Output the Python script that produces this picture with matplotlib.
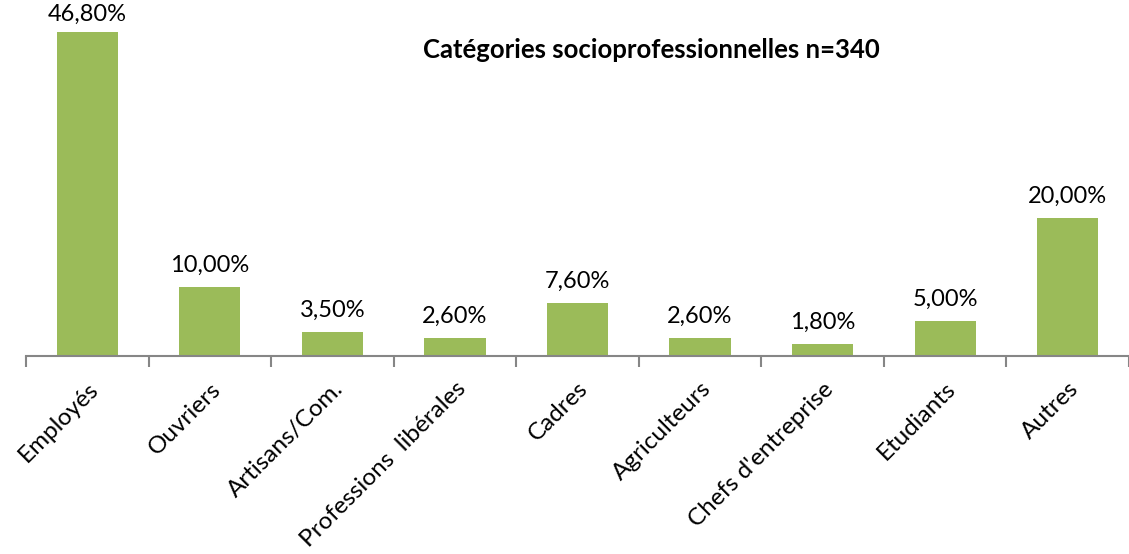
import matplotlib.pyplot as plt
import numpy as np

# data
categories = ["Employés", "Ouvriers", "Artisans/Com.", "Professions  libérales", "Cadres",
              "Agriculteurs", "Chefs d'entreprise", "Etudiants", "Autres"]
values = [46.8, 10.0, 3.5, 2.6, 7.6, 2.6, 1.8, 5.0, 20.0]
title = "Catégories socioprofessionnelles n=340"

plt.rcParams['font.family'] = ['Lato', 'DejaVu Sans']

fig = plt.figure(figsize=(11.29, 5.54), dpi=100)
ax = fig.add_axes([26 / 1129, 198 / 554, 1103 / 1129, 356 / 554])

x = np.arange(len(categories))
bars = ax.bar(x, values, width=0.5, color="#9BBB59")

ymax = 46.8 * 356 / 324
ax.set_xlim(-0.5, len(categories) - 0.5)
ax.set_ylim(0, ymax)

# value labels, pushed down near the top edge
for xi, v in zip(x, values):
    ax.text(xi, min(v + 1.6, ymax - 3.6), f"{v:.2f}".replace(".", ",") + "%",
            ha="center", va="bottom", fontsize=17)

ax.text(0.567, 0.86, title, transform=ax.transAxes, ha="center", va="center",
        fontsize=18.5, fontweight="bold")

for s in ["top", "right", "left"]:
    ax.spines[s].set_visible(False)
ax.spines["bottom"].set_color("#868686")
ax.spines["bottom"].set_linewidth(1.5)
ax.set_yticks([])

ax.set_xticks(x)
ax.set_xticklabels(categories, rotation=45, ha="right", rotation_mode="anchor", fontsize=17.5)
ax.tick_params(axis="x", which="major", length=0, pad=16)
ax.set_xticks(np.arange(len(categories) + 1) - 0.5, minor=True)
ax.tick_params(axis="x", which="minor", length=8, width=1.5, color="#868686")

fig.savefig("out.png", dpi=100)
